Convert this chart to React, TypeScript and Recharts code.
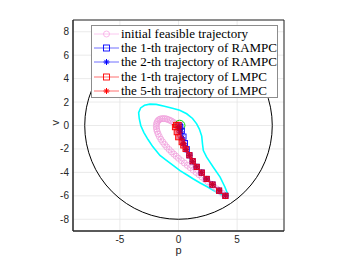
import React from "react"
import {
  ScatterChart,
  Scatter,
  XAxis,
  YAxis,
  CartesianGrid,
  ReferenceDot,
  ReferenceArea,
} from "recharts"

// plot geometry (used only to turn a radius in data units into pixels)
const W = 346
const H = 260
const PLOT_LEFT = 73
const PLOT_RIGHT = 284
const PLOT_TOP = 20
const PLOT_BOTTOM = 231
const DOMAIN: [number, number] = [-9, 9]
const PX_PER_UNIT = (PLOT_RIGHT - PLOT_LEFT) / (DOMAIN[1] - DOMAIN[0])

const xTicks = [-5, 0, 5]
const yTicks = [-8, -6, -4, -2, 0, 2, 4, 6, 8]

// state constraint (circle) and terminal set (small circle)
const constraintRadius = 8
const terminalCenter = { p: 0.1, v: 0.0 }
const terminalRadius = 0.45

// cyan set boundary
const cyanSet = [
  { p: 4.25, v: -6.0 }, { p: 3.97, v: -5.27 }, { p: 3.55, v: -4.4 },
  { p: 2.97, v: -3.56 }, { p: 2.4, v: -2.7 }, { p: 2.12, v: -2.14 },
  { p: 2.05, v: -1.6 }, { p: 1.98, v: -0.9 }, { p: 1.78, v: -0.3 },
  { p: 1.55, v: 0.14 }, { p: 1.2, v: 0.6 }, { p: 0.7, v: 1.0 },
  { p: 0.1, v: 1.3 }, { p: -0.44, v: 1.45 }, { p: -1.2, v: 1.65 },
  { p: -1.9, v: 1.8 }, { p: -2.44, v: 1.82 }, { p: -2.9, v: 1.72 },
  { p: -3.23, v: 1.5 }, { p: -3.4, v: 1.1 }, { p: -3.35, v: 0.6 },
  { p: -3.22, v: 0.0 }, { p: -2.95, v: -0.6 }, { p: -2.6, v: -1.2 },
  { p: -2.2, v: -1.8 }, { p: -1.58, v: -2.56 }, { p: -1.0, v: -3.0 },
  { p: -0.4, v: -3.45 }, { p: 0.13, v: -3.85 }, { p: 0.7, v: -4.2 },
  { p: 1.27, v: -4.56 }, { p: 1.85, v: -4.9 }, { p: 2.41, v: -5.21 },
  { p: 3.0, v: -5.55 }, { p: 3.55, v: -5.84 }, { p: 4.0, v: -6.05 },
  { p: 4.25, v: -6.0 },
]

const initialTrajectory = [
  { p: 4.0, v: -6.0 }, { p: 3.75, v: -5.8 }, { p: 3.5, v: -5.6 },
  { p: 3.25, v: -5.4 }, { p: 3.0, v: -5.2 }, { p: 2.75, v: -5.0 },
  { p: 2.5, v: -4.8 }, { p: 2.25, v: -4.6 }, { p: 2.0, v: -4.4 },
  { p: 1.75, v: -4.2 }, { p: 1.5, v: -4.0 }, { p: 1.25, v: -3.8 },
  { p: 1.0, v: -3.6 }, { p: 0.75, v: -3.4 }, { p: 0.5, v: -3.2 },
  { p: 0.25, v: -3.0 }, { p: 0.0, v: -2.8 }, { p: -0.2, v: -2.62 },
  { p: -0.4, v: -2.44 }, { p: -0.6, v: -2.25 }, { p: -0.8, v: -2.05 },
  { p: -1.0, v: -1.84 }, { p: -1.18, v: -1.62 }, { p: -1.35, v: -1.4 },
  { p: -1.5, v: -1.18 }, { p: -1.63, v: -0.95 }, { p: -1.74, v: -0.72 },
  { p: -1.82, v: -0.5 }, { p: -1.87, v: -0.3 }, { p: -1.89, v: -0.1 },
  { p: -1.88, v: 0.08 }, { p: -1.84, v: 0.24 }, { p: -1.77, v: 0.38 },
  { p: -1.68, v: 0.48 }, { p: -1.56, v: 0.55 }, { p: -1.42, v: 0.58 },
  { p: -1.28, v: 0.59 }, { p: -1.14, v: 0.58 }, { p: -1.0, v: 0.55 },
  { p: -0.86, v: 0.5 }, { p: -0.72, v: 0.44 }, { p: -0.58, v: 0.37 },
  { p: -0.44, v: 0.28 }, { p: -0.32, v: 0.2 },
]

const rampc1 = [
  { p: 4.0, v: -6.0 }, { p: 3.46, v: -5.56 }, { p: 2.9, v: -5.04 },
  { p: 2.4, v: -4.56 }, { p: 1.98, v: -4.02 }, { p: 1.55, v: -3.53 },
  { p: 1.21, v: -3.05 }, { p: 0.93, v: -2.54 }, { p: 0.7, v: -2.02 },
  { p: 0.55, v: -1.5 }, { p: 0.42, v: -0.95 }, { p: 0.28, v: -0.45 },
  { p: 0.15, v: -0.12 }, { p: 0.08, v: 0.0 },
]

const rampc2 = [
  { p: 4.0, v: -6.0 }, { p: 3.46, v: -5.56 }, { p: 2.9, v: -5.04 },
  { p: 2.4, v: -4.56 }, { p: 1.98, v: -4.02 }, { p: 1.55, v: -3.53 },
  { p: 1.21, v: -3.05 }, { p: 0.93, v: -2.54 }, { p: 0.66, v: -2.03 },
  { p: 0.45, v: -1.55 }, { p: 0.32, v: -1.05 }, { p: 0.2, v: -0.55 },
  { p: 0.12, v: -0.25 }, { p: 0.05, v: -0.05 },
]

const lmpc1 = [
  { p: 4.0, v: -6.0 }, { p: 3.46, v: -5.56 }, { p: 2.9, v: -5.04 },
  { p: 2.4, v: -4.56 }, { p: 1.98, v: -4.02 }, { p: 1.55, v: -3.53 },
  { p: 1.21, v: -3.05 }, { p: 0.93, v: -2.54 }, { p: 0.6, v: -2.0 },
  { p: 0.41, v: -1.7 }, { p: 0.27, v: -1.42 }, { p: -0.02, v: -1.0 },
  { p: -0.15, v: -0.57 }, { p: -0.3, v: -0.14 }, { p: -0.2, v: 0.05 },
  { p: 0.0, v: 0.05 },
]

const lmpc5 = [
  { p: 4.0, v: -6.0 }, { p: 3.46, v: -5.56 }, { p: 2.9, v: -5.04 },
  { p: 2.4, v: -4.56 }, { p: 1.98, v: -4.02 }, { p: 1.55, v: -3.53 },
  { p: 1.21, v: -3.05 }, { p: 0.93, v: -2.54 }, { p: 0.64, v: -2.05 },
  { p: 0.41, v: -1.57 }, { p: 0.27, v: -1.08 }, { p: 0.13, v: -0.57 },
  { p: 0.07, v: -0.28 }, { p: 0.03, v: -0.1 },
]

const legendLabels = [
  "initial feasible trajectory",
  "the 1-th trajectory of RAMPC",
  "the 2-th trajectory of RAMPC",
  "the 1-th trajectory of LMPC",
  "the 5-th trajectory of LMPC",
]

const PINK = "#f0a0dc"
const BLUE = "#0000ff"
const RED = "#ff0000"
const CYAN = "#00ffff"

type Mark = "circle" | "square" | "star"

function Marker({ cx, cy, kind, color, fill = "none", size = 3 }: any) {
  if (cx == null || cy == null) return null
  if (kind === "circle") {
    return <circle cx={cx} cy={cy} r={size} fill={fill} stroke={color} strokeWidth={0.8} />
  }
  if (kind === "square") {
    return (
      <rect x={cx - size} y={cy - size} width={size * 2} height={size * 2} fill={fill} stroke={color} strokeWidth={0.9} />
    )
  }
  const s = size
  return (
    <g stroke={color} strokeWidth={1}>
      <line x1={cx - s} y1={cy} x2={cx + s} y2={cy} />
      <line x1={cx} y1={cy - s} x2={cx} y2={cy + s} />
      <line x1={cx - s * 0.7} y1={cy - s * 0.7} x2={cx + s * 0.7} y2={cy + s * 0.7} />
      <line x1={cx - s * 0.7} y1={cy + s * 0.7} x2={cx + s * 0.7} y2={cy - s * 0.7} />
    </g>
  )
}

const legendItems: { kind: Mark; color: string; line: string }[] = [
  { kind: "circle", color: "#f7a8e6", line: "#fbc8f0" },
  { kind: "square", color: BLUE, line: "#7070ff" },
  { kind: "star", color: BLUE, line: "#7070ff" },
  { kind: "square", color: RED, line: "#ff7070" },
  { kind: "star", color: RED, line: "#ff7070" },
]

function Legend() {
  return (
    <div
      style={{
        position: "absolute",
        left: 91,
        top: 25,
        width: 187,
        height: 73,
        background: "#fff",
        border: "1px solid #8c8c8c",
        boxSizing: "border-box",
        fontFamily: "'Liberation Serif', serif",
        fontSize: 13,
        color: "#000",
      }}
    >
      {legendLabels.map((label, i) => (
        <div key={label} style={{ position: "absolute", left: 0, top: 1 + i * 14.2, height: 14, display: "flex", alignItems: "center" }}>
          <svg width={29} height={14} style={{ display: "block" }}>
            <line x1={2} y1={7} x2={27} y2={7} stroke={legendItems[i].line} strokeWidth={1} />
            <Marker cx={14.5} cy={7} kind={legendItems[i].kind} color={legendItems[i].color} size={3} />
          </svg>
          <span style={{ whiteSpace: "nowrap", lineHeight: "14px" }}>{label}</span>
        </div>
      ))}
    </div>
  )
}

const tickStyle = { fill: "#262626", fontSize: 10, fontFamily: "'Liberation Sans', Arial, sans-serif" }

export default function App() {
  return (
    <div style={{ position: "absolute", left: 0, top: 0, width: W, height: H, background: "#fff" }}>
      <ScatterChart
        width={W}
        height={H}
        margin={{ top: PLOT_TOP, right: W - PLOT_RIGHT, bottom: 0, left: 0 }}
      >
        <CartesianGrid stroke="#e5e5e5" strokeWidth={0.8} />
        <XAxis
          type="number"
          dataKey="p"
          domain={DOMAIN}
          ticks={xTicks}
          allowDataOverflow
          height={H - PLOT_BOTTOM}
          tick={tickStyle}
          tickLine={false}
          tickSize={4}
          tickMargin={1}
          axisLine={{ stroke: "#262626" }}
        />
        <YAxis
          type="number"
          dataKey="v"
          domain={DOMAIN}
          ticks={yTicks}
          allowDataOverflow
          width={PLOT_LEFT}
          tick={tickStyle}
          tickLine={false}
          tickSize={3}
          tickMargin={1}
          axisLine={{ stroke: "#262626" }}
          label={{ value: "v", angle: -90, position: "insideLeft", offset: 55, style: { ...tickStyle, fontSize: 11 } }}
        />
        <ReferenceArea x1={DOMAIN[0]} x2={DOMAIN[1]} y1={DOMAIN[0]} y2={DOMAIN[1]} fill="none" stroke="#262626" strokeWidth={1} fillOpacity={0} />
        <ReferenceDot x={0} y={0} r={constraintRadius * PX_PER_UNIT} fill="none" stroke="#000" strokeWidth={1} />
        <Scatter data={cyanSet} line={{ stroke: CYAN, strokeWidth: 1.6 }} lineType="joint" shape={() => <g />} isAnimationActive={false} />
        <Scatter
          data={initialTrajectory}
          line={{ stroke: "#f7b6ea", strokeWidth: 1 }}
          lineType="joint"
          shape={(pr: any) => <Marker cx={pr.cx} cy={pr.cy} kind="circle" color={PINK} size={3} />}
          isAnimationActive={false}
        />
        <ReferenceDot x={terminalCenter.p} y={terminalCenter.v} r={terminalRadius * PX_PER_UNIT} fill="none" stroke="#00dd00" strokeWidth={1} />
        <Scatter
          data={rampc1}
          line={{ stroke: "#5050ff", strokeWidth: 1 }}
          lineType="joint"
          shape={(pr: any) => <Marker cx={pr.cx} cy={pr.cy} kind="square" color={BLUE} size={2.6} />}
          isAnimationActive={false}
        />
        <Scatter
          data={rampc2}
          line={{ stroke: "#5050ff", strokeWidth: 1 }}
          lineType="joint"
          shape={(pr: any) => <Marker cx={pr.cx} cy={pr.cy} kind="star" color={BLUE} size={3} />}
          isAnimationActive={false}
        />
        <Scatter
          data={lmpc1}
          line={{ stroke: "#ff5050", strokeWidth: 1 }}
          lineType="joint"
          shape={(pr: any) => <Marker cx={pr.cx} cy={pr.cy} kind="square" color={RED} fill="rgba(230,30,70,0.55)" size={2.6} />}
          isAnimationActive={false}
        />
        <Scatter
          data={lmpc5}
          line={{ stroke: "#e0103a", strokeWidth: 1 }}
          lineType="joint"
          shape={(pr: any) => <Marker cx={pr.cx} cy={pr.cy} kind="star" color="#c80030" size={3} />}
          isAnimationActive={false}
        />
      </ScatterChart>
      <div
        style={{
          position: "absolute",
          left: PLOT_LEFT,
          width: PLOT_RIGHT - PLOT_LEFT,
          top: 244,
          textAlign: "center",
          fontFamily: "'Liberation Sans', Arial, sans-serif",
          fontSize: 11,
          lineHeight: "12px",
          color: "#262626",
        }}
      >
        p
      </div>
      <Legend />
    </div>
  )
}
